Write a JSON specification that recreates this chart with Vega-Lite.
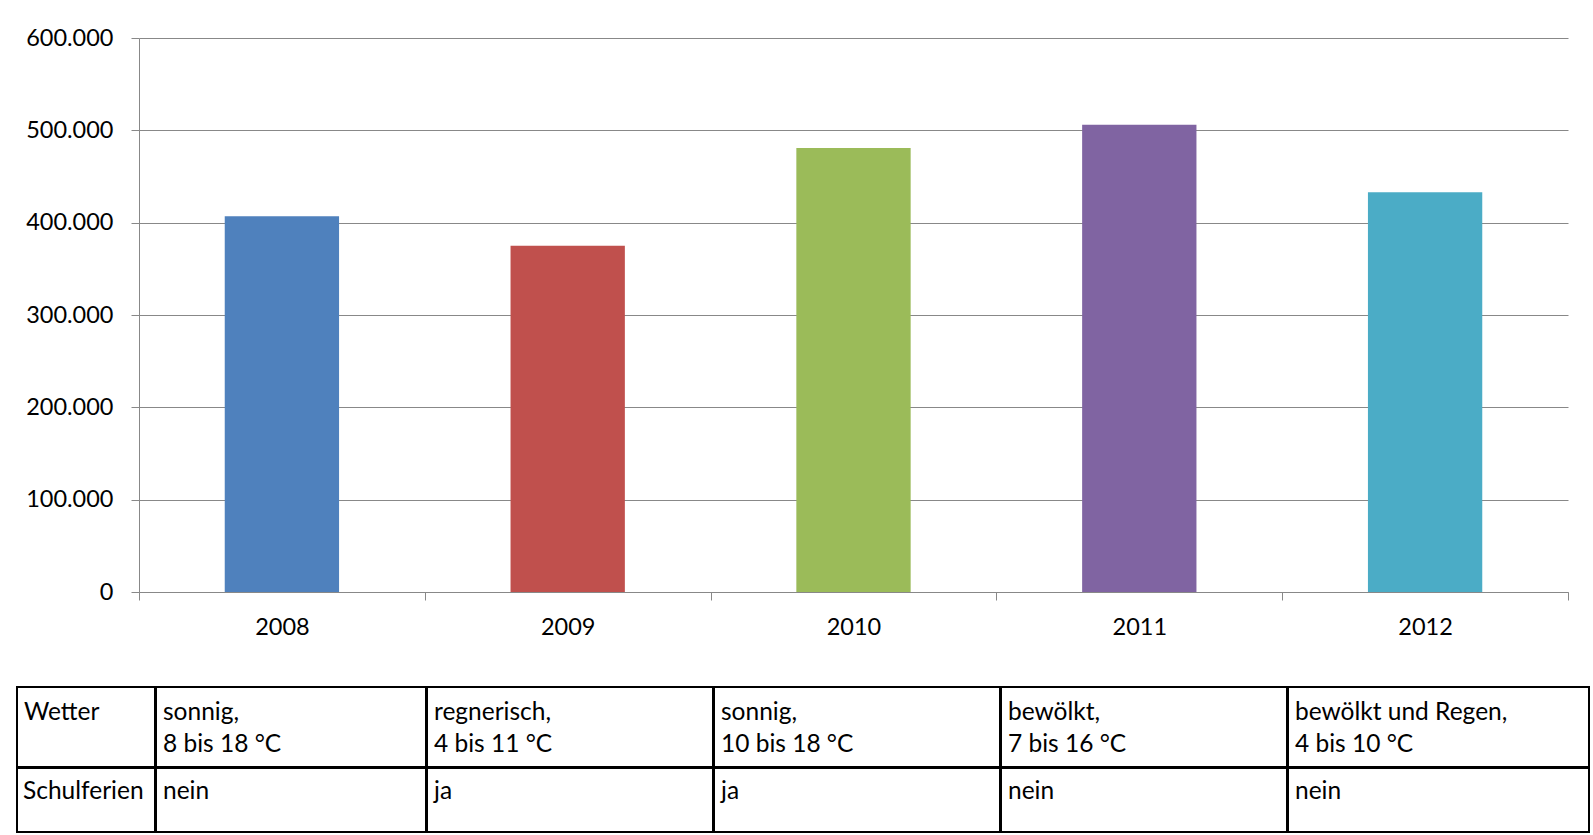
{
  "$schema": "https://vega.github.io/schema/vega-lite/v6.json",
  "padding": {"left": 16, "top": 26, "right": 0, "bottom": 0},
  "background": "white",
  "datasets": {
    "daten": [
      {"Jahr": 2008, "Besucher": 407000, "Wetter": "sonnig,\n8 bis 18 °C", "Schulferien": "nein"},
      {"Jahr": 2009, "Besucher": 375000, "Wetter": "regnerisch,\n4 bis 11 °C", "Schulferien": "ja"},
      {"Jahr": 2010, "Besucher": 481000, "Wetter": "sonnig,\n10 bis 18 °C", "Schulferien": "ja"},
      {"Jahr": 2011, "Besucher": 506000, "Wetter": "bewölkt,\n7 bis 16 °C", "Schulferien": "nein"},
      {"Jahr": 2012, "Besucher": 433000, "Wetter": "bewölkt und Regen,\n4 bis 10 °C", "Schulferien": "nein"}
    ]
  },
  "spacing": 47,
  "vconcat": [
    {
      "spacing": 0,
      "hconcat": [
        {
          "width": 1, "height": 1,
          "view": {"stroke": null},
          "data": {"values": []},
          "mark": {"type": "point"}
        },
        {
          "width": 1429,
          "height": 554,
          "view": {"stroke": null},
          "data": {"name": "daten"},
          "mark": {"type": "bar", "width": {"band": 0.4}},
          "encoding": {
            "x": {
              "field": "Jahr", "type": "nominal",
              "scale": {"paddingInner": 0, "paddingOuter": 0},
              "axis": {"title": null, "labelAngle": 0, "tickBand": "extent", "tickSize": 8, "labelPadding": 15, "domainColor": "#888888", "tickColor": "#888888", "grid": false}
            },
            "y": {
              "field": "Besucher", "type": "quantitative",
              "scale": {"domain": [0, 600000], "nice": false},
              "axis": {"title": null, "values": [0, 100000, 200000, 300000, 400000, 500000, 600000], "format": ",d", "tickSize": 8, "labelPadding": 18, "minExtent": 121, "domainColor": "#888888", "tickColor": "#888888", "grid": true, "gridColor": "#888888", "gridOpacity": 1}
            },
            "color": {
              "field": "Jahr", "type": "nominal",
              "scale": {"range": ["#4F81BD", "#C0504D", "#9BBB59", "#8064A2", "#4BACC6"]},
              "legend": null
            }
          }
        }
      ]
    },
    {
      "spacing": -3,
      "vconcat": [
        {
          "spacing": -3,
          "hconcat": [
            {"width": 138, "height": 80, "data": {"name": "daten"}, "transform": [{"filter": "datum.Jahr == 2008"}, {"fold": ["Wetter"]}],
             "mark": {"type": "text", "align": "left", "baseline": "top", "dx": 7, "dy": 14, "fontSize": 24.5, "lineBreak": "\n", "lineHeight": 32, "color": "black"},
             "encoding": {"x": {"field": "key", "type": "nominal", "bandPosition": 0, "scale": {"type": "band", "paddingInner": 0, "paddingOuter": 0}, "axis": null},
                          "y": {"field": "key", "type": "nominal", "bandPosition": 0, "scale": {"type": "band", "paddingInner": 0, "paddingOuter": 0}, "axis": null},
                          "text": {"field": "key"}}},
            {"width": 270, "height": 80, "data": {"name": "daten"}, "transform": [{"filter": "datum.Jahr == 2008"}, {"fold": ["Wetter"]}],
             "mark": {"type": "text", "align": "left", "baseline": "top", "dx": 7, "dy": 14, "fontSize": 24.5, "lineBreak": "\n", "lineHeight": 32, "color": "black"},
             "encoding": {"x": {"field": "Jahr", "type": "nominal", "bandPosition": 0, "scale": {"type": "band", "paddingInner": 0, "paddingOuter": 0}, "axis": null},
                          "y": {"field": "key", "type": "nominal", "bandPosition": 0, "scale": {"type": "band", "paddingInner": 0, "paddingOuter": 0}, "axis": null},
                          "text": {"field": "value"}}},
            {"width": 286, "height": 80, "data": {"name": "daten"}, "transform": [{"filter": "datum.Jahr == 2009"}, {"fold": ["Wetter"]}],
             "mark": {"type": "text", "align": "left", "baseline": "top", "dx": 7, "dy": 14, "fontSize": 24.5, "lineBreak": "\n", "lineHeight": 32, "color": "black"},
             "encoding": {"x": {"field": "Jahr", "type": "nominal", "bandPosition": 0, "scale": {"type": "band", "paddingInner": 0, "paddingOuter": 0}, "axis": null},
                          "y": {"field": "key", "type": "nominal", "bandPosition": 0, "scale": {"type": "band", "paddingInner": 0, "paddingOuter": 0}, "axis": null},
                          "text": {"field": "value"}}},
            {"width": 286, "height": 80, "data": {"name": "daten"}, "transform": [{"filter": "datum.Jahr == 2010"}, {"fold": ["Wetter"]}],
             "mark": {"type": "text", "align": "left", "baseline": "top", "dx": 7, "dy": 14, "fontSize": 24.5, "lineBreak": "\n", "lineHeight": 32, "color": "black"},
             "encoding": {"x": {"field": "Jahr", "type": "nominal", "bandPosition": 0, "scale": {"type": "band", "paddingInner": 0, "paddingOuter": 0}, "axis": null},
                          "y": {"field": "key", "type": "nominal", "bandPosition": 0, "scale": {"type": "band", "paddingInner": 0, "paddingOuter": 0}, "axis": null},
                          "text": {"field": "value"}}},
            {"width": 286, "height": 80, "data": {"name": "daten"}, "transform": [{"filter": "datum.Jahr == 2011"}, {"fold": ["Wetter"]}],
             "mark": {"type": "text", "align": "left", "baseline": "top", "dx": 7, "dy": 14, "fontSize": 24.5, "lineBreak": "\n", "lineHeight": 32, "color": "black"},
             "encoding": {"x": {"field": "Jahr", "type": "nominal", "bandPosition": 0, "scale": {"type": "band", "paddingInner": 0, "paddingOuter": 0}, "axis": null},
                          "y": {"field": "key", "type": "nominal", "bandPosition": 0, "scale": {"type": "band", "paddingInner": 0, "paddingOuter": 0}, "axis": null},
                          "text": {"field": "value"}}},
            {"width": 301, "height": 80, "data": {"name": "daten"}, "transform": [{"filter": "datum.Jahr == 2012"}, {"fold": ["Wetter"]}],
             "mark": {"type": "text", "align": "left", "baseline": "top", "dx": 7, "dy": 14, "fontSize": 24.5, "lineBreak": "\n", "lineHeight": 32, "color": "black"},
             "encoding": {"x": {"field": "Jahr", "type": "nominal", "bandPosition": 0, "scale": {"type": "band", "paddingInner": 0, "paddingOuter": 0}, "axis": null},
                          "y": {"field": "key", "type": "nominal", "bandPosition": 0, "scale": {"type": "band", "paddingInner": 0, "paddingOuter": 0}, "axis": null},
                          "text": {"field": "value"}}}
          ]
        },
        {
          "spacing": -3,
          "hconcat": [
            {"width": 138, "height": 64, "data": {"name": "daten"}, "transform": [{"filter": "datum.Jahr == 2008"}, {"fold": ["Schulferien"]}],
             "mark": {"type": "text", "align": "left", "baseline": "top", "dx": 6, "dy": 12, "fontSize": 24.5, "lineBreak": "\n", "lineHeight": 32, "color": "black"},
             "encoding": {"x": {"field": "key", "type": "nominal", "bandPosition": 0, "scale": {"type": "band", "paddingInner": 0, "paddingOuter": 0}, "axis": null},
                          "y": {"field": "key", "type": "nominal", "bandPosition": 0, "scale": {"type": "band", "paddingInner": 0, "paddingOuter": 0}, "axis": null},
                          "text": {"field": "key"}}},
            {"width": 270, "height": 64, "data": {"name": "daten"}, "transform": [{"filter": "datum.Jahr == 2008"}, {"fold": ["Schulferien"]}],
             "mark": {"type": "text", "align": "left", "baseline": "top", "dx": 7, "dy": 12, "fontSize": 24.5, "lineBreak": "\n", "lineHeight": 32, "color": "black"},
             "encoding": {"x": {"field": "Jahr", "type": "nominal", "bandPosition": 0, "scale": {"type": "band", "paddingInner": 0, "paddingOuter": 0}, "axis": null},
                          "y": {"field": "key", "type": "nominal", "bandPosition": 0, "scale": {"type": "band", "paddingInner": 0, "paddingOuter": 0}, "axis": null},
                          "text": {"field": "value"}}},
            {"width": 286, "height": 64, "data": {"name": "daten"}, "transform": [{"filter": "datum.Jahr == 2009"}, {"fold": ["Schulferien"]}],
             "mark": {"type": "text", "align": "left", "baseline": "top", "dx": 7, "dy": 12, "fontSize": 24.5, "lineBreak": "\n", "lineHeight": 32, "color": "black"},
             "encoding": {"x": {"field": "Jahr", "type": "nominal", "bandPosition": 0, "scale": {"type": "band", "paddingInner": 0, "paddingOuter": 0}, "axis": null},
                          "y": {"field": "key", "type": "nominal", "bandPosition": 0, "scale": {"type": "band", "paddingInner": 0, "paddingOuter": 0}, "axis": null},
                          "text": {"field": "value"}}},
            {"width": 286, "height": 64, "data": {"name": "daten"}, "transform": [{"filter": "datum.Jahr == 2010"}, {"fold": ["Schulferien"]}],
             "mark": {"type": "text", "align": "left", "baseline": "top", "dx": 7, "dy": 12, "fontSize": 24.5, "lineBreak": "\n", "lineHeight": 32, "color": "black"},
             "encoding": {"x": {"field": "Jahr", "type": "nominal", "bandPosition": 0, "scale": {"type": "band", "paddingInner": 0, "paddingOuter": 0}, "axis": null},
                          "y": {"field": "key", "type": "nominal", "bandPosition": 0, "scale": {"type": "band", "paddingInner": 0, "paddingOuter": 0}, "axis": null},
                          "text": {"field": "value"}}},
            {"width": 286, "height": 64, "data": {"name": "daten"}, "transform": [{"filter": "datum.Jahr == 2011"}, {"fold": ["Schulferien"]}],
             "mark": {"type": "text", "align": "left", "baseline": "top", "dx": 7, "dy": 12, "fontSize": 24.5, "lineBreak": "\n", "lineHeight": 32, "color": "black"},
             "encoding": {"x": {"field": "Jahr", "type": "nominal", "bandPosition": 0, "scale": {"type": "band", "paddingInner": 0, "paddingOuter": 0}, "axis": null},
                          "y": {"field": "key", "type": "nominal", "bandPosition": 0, "scale": {"type": "band", "paddingInner": 0, "paddingOuter": 0}, "axis": null},
                          "text": {"field": "value"}}},
            {"width": 301, "height": 64, "data": {"name": "daten"}, "transform": [{"filter": "datum.Jahr == 2012"}, {"fold": ["Schulferien"]}],
             "mark": {"type": "text", "align": "left", "baseline": "top", "dx": 7, "dy": 12, "fontSize": 24.5, "lineBreak": "\n", "lineHeight": 32, "color": "black"},
             "encoding": {"x": {"field": "Jahr", "type": "nominal", "bandPosition": 0, "scale": {"type": "band", "paddingInner": 0, "paddingOuter": 0}, "axis": null},
                          "y": {"field": "key", "type": "nominal", "bandPosition": 0, "scale": {"type": "band", "paddingInner": 0, "paddingOuter": 0}, "axis": null},
                          "text": {"field": "value"}}}
          ]
        }
      ]
    }
  ],
  "config": {
    "font": "Lato",
    "locale": {"number": {"decimal": ",", "thousands": ".", "grouping": [3], "currency": ["", " €"]}},
    "view": {"stroke": "black", "strokeWidth": 2, "fill": null},
    "axis": {"labelFont": "Lato", "labelFontSize": 23.5, "labelColor": "black", "domainWidth": 1, "tickWidth": 1, "gridWidth": 1}
  }
}
